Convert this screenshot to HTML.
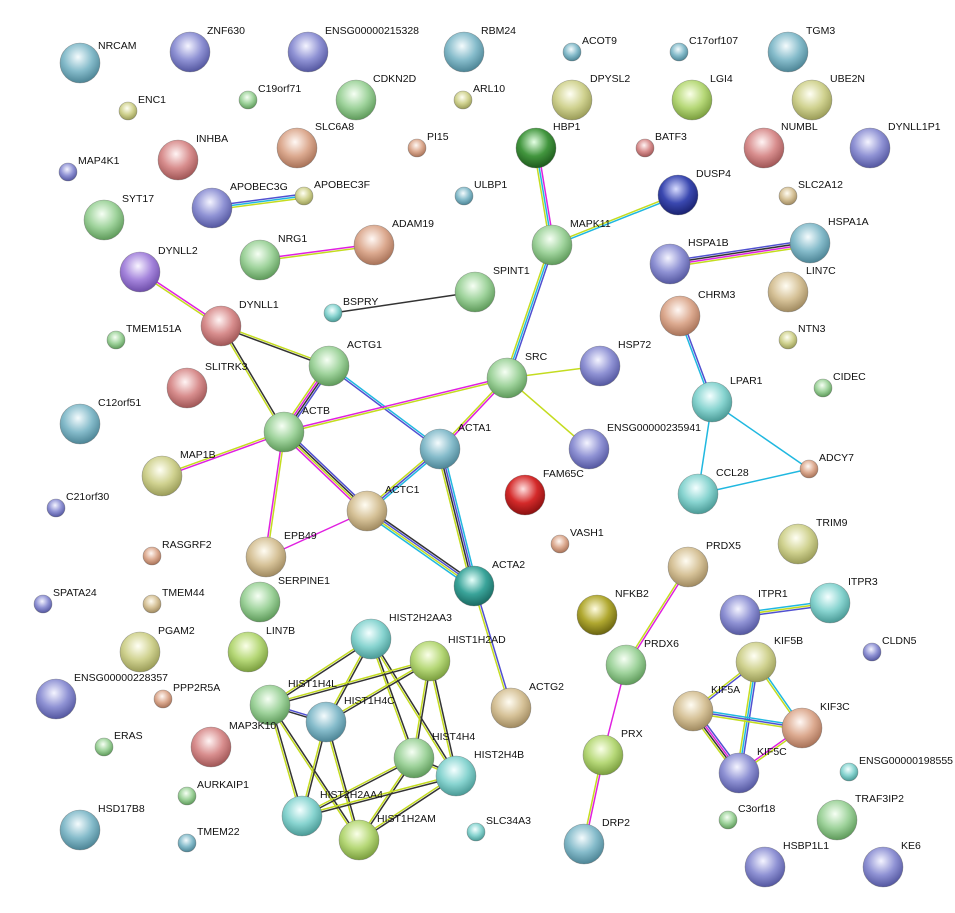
<!DOCTYPE html>
<html><head><meta charset="utf-8"><style>
body{margin:0;background:#fff;width:955px;height:913px;overflow:hidden}
svg{display:block}
text{font-family:"Liberation Sans",Arial,sans-serif;font-size:10.5px;fill:#111}
</style></head><body>
<svg id="s" width="955" height="913" viewBox="0 0 955 913">
<defs>
<radialGradient id="tb" cx="45%" cy="35%" r="65%"><stop offset="0" stop-color="#f4fbfd"/><stop offset=".55" stop-color="#86bccb"/><stop offset="1" stop-color="#4d8596"/></radialGradient>
<radialGradient id="bp" cx="45%" cy="35%" r="65%"><stop offset="0" stop-color="#f4f4ff"/><stop offset=".55" stop-color="#8f92d4"/><stop offset="1" stop-color="#5457a0"/></radialGradient>
<radialGradient id="gr" cx="45%" cy="35%" r="65%"><stop offset="0" stop-color="#f6fff4"/><stop offset=".55" stop-color="#9fd39c"/><stop offset="1" stop-color="#5e9a5a"/></radialGradient>
<radialGradient id="ol" cx="45%" cy="35%" r="65%"><stop offset="0" stop-color="#fffff4"/><stop offset=".55" stop-color="#d0d290"/><stop offset="1" stop-color="#9a9c58"/></radialGradient>
<radialGradient id="sa" cx="45%" cy="35%" r="65%"><stop offset="0" stop-color="#fff8f4"/><stop offset=".55" stop-color="#dcaa90"/><stop offset="1" stop-color="#a87258"/></radialGradient>
<radialGradient id="pk" cx="45%" cy="35%" r="65%"><stop offset="0" stop-color="#fff4f4"/><stop offset=".55" stop-color="#d88e8e"/><stop offset="1" stop-color="#a05656"/></radialGradient>
<radialGradient id="pu" cx="45%" cy="35%" r="65%"><stop offset="0" stop-color="#f8f4ff"/><stop offset=".55" stop-color="#a585dc"/><stop offset="1" stop-color="#6e4eaa"/></radialGradient>
<radialGradient id="cy" cx="45%" cy="35%" r="65%"><stop offset="0" stop-color="#f4ffff"/><stop offset=".55" stop-color="#88d4d0"/><stop offset="1" stop-color="#4a9a96"/></radialGradient>
<radialGradient id="db" cx="45%" cy="35%" r="65%"><stop offset="0" stop-color="#d8dcff"/><stop offset=".55" stop-color="#3a48b0"/><stop offset="1" stop-color="#1a2270"/></radialGradient>
<radialGradient id="dg" cx="45%" cy="35%" r="65%"><stop offset="0" stop-color="#e4ffe4"/><stop offset=".55" stop-color="#42963e"/><stop offset="1" stop-color="#1e5a1c"/></radialGradient>
<radialGradient id="rd" cx="45%" cy="35%" r="65%"><stop offset="0" stop-color="#ffe0e0"/><stop offset=".55" stop-color="#d42a2a"/><stop offset="1" stop-color="#8a1010"/></radialGradient>
<radialGradient id="yo" cx="45%" cy="35%" r="65%"><stop offset="0" stop-color="#fffce0"/><stop offset=".55" stop-color="#b0a830"/><stop offset="1" stop-color="#6a6410"/></radialGradient>
<radialGradient id="ta" cx="45%" cy="35%" r="65%"><stop offset="0" stop-color="#fffcf2"/><stop offset=".55" stop-color="#d6c298"/><stop offset="1" stop-color="#a08a60"/></radialGradient>
<radialGradient id="tl" cx="45%" cy="35%" r="65%"><stop offset="0" stop-color="#e6fffa"/><stop offset=".55" stop-color="#3aa49a"/><stop offset="1" stop-color="#1a6a62"/></radialGradient>
<radialGradient id="lg" cx="45%" cy="35%" r="65%"><stop offset="0" stop-color="#faffe8"/><stop offset=".55" stop-color="#b6d878"/><stop offset="1" stop-color="#7a9e3e"/></radialGradient>
</defs>
<g id="edges"></g>
<g stroke="#555" stroke-width=".6" stroke-opacity=".5">
<circle cx="80" cy="63" r="20" fill="url(#tb)"/><circle cx="190" cy="52" r="20" fill="url(#bp)"/><circle cx="308" cy="52" r="20" fill="url(#bp)"/><circle cx="464" cy="52" r="20" fill="url(#tb)"/><circle cx="788" cy="52" r="20" fill="url(#tb)"/>
<circle cx="356" cy="100" r="20" fill="url(#gr)"/><circle cx="572" cy="100" r="20" fill="url(#ol)"/><circle cx="692" cy="100" r="20" fill="url(#lg)"/><circle cx="812" cy="100" r="20" fill="url(#ol)"/>
<circle cx="178" cy="160" r="20" fill="url(#pk)"/><circle cx="297" cy="148" r="20" fill="url(#sa)"/><circle cx="536" cy="148" r="20" fill="url(#dg)"/><circle cx="764" cy="148" r="20" fill="url(#pk)"/><circle cx="870" cy="148" r="20" fill="url(#bp)"/>
<circle cx="678" cy="195" r="20" fill="url(#db)"/><circle cx="104" cy="220" r="20" fill="url(#gr)"/><circle cx="212" cy="208" r="20" fill="url(#bp)"/><circle cx="552" cy="245" r="20" fill="url(#gr)"/>
<circle cx="810" cy="243" r="20" fill="url(#tb)"/><circle cx="670" cy="264" r="20" fill="url(#bp)"/><circle cx="260" cy="260" r="20" fill="url(#gr)"/><circle cx="374" cy="245" r="20" fill="url(#sa)"/>
<circle cx="140" cy="272" r="20" fill="url(#pu)"/><circle cx="475" cy="292" r="20" fill="url(#gr)"/><circle cx="788" cy="292" r="20" fill="url(#ta)"/><circle cx="680" cy="316" r="20" fill="url(#sa)"/>
<circle cx="221" cy="326" r="20" fill="url(#pk)"/><circle cx="329" cy="366" r="20" fill="url(#gr)"/><circle cx="507" cy="378" r="20" fill="url(#gr)"/><circle cx="600" cy="366" r="20" fill="url(#bp)"/>
<circle cx="187" cy="388" r="20" fill="url(#pk)"/><circle cx="712" cy="402" r="20" fill="url(#cy)"/><circle cx="80" cy="424" r="20" fill="url(#tb)"/><circle cx="284" cy="432" r="20" fill="url(#gr)"/>
<circle cx="440" cy="449" r="20" fill="url(#tb)"/><circle cx="589" cy="449" r="20" fill="url(#bp)"/><circle cx="162" cy="476" r="20" fill="url(#ol)"/><circle cx="525" cy="495" r="20" fill="url(#rd)"/>
<circle cx="698" cy="494" r="20" fill="url(#cy)"/><circle cx="367" cy="511" r="20" fill="url(#ta)"/><circle cx="798" cy="544" r="20" fill="url(#ol)"/><circle cx="266" cy="557" r="20" fill="url(#ta)"/>
<circle cx="688" cy="567" r="20" fill="url(#ta)"/><circle cx="474" cy="586" r="20" fill="url(#tl)"/><circle cx="260" cy="602" r="20" fill="url(#gr)"/><circle cx="740" cy="615" r="20" fill="url(#bp)"/>
<circle cx="830" cy="603" r="20" fill="url(#cy)"/><circle cx="597" cy="615" r="20" fill="url(#yo)"/><circle cx="371" cy="639" r="20" fill="url(#cy)"/><circle cx="430" cy="661" r="20" fill="url(#lg)"/>
<circle cx="140" cy="652" r="20" fill="url(#ol)"/><circle cx="248" cy="652" r="20" fill="url(#lg)"/><circle cx="626" cy="665" r="20" fill="url(#gr)"/><circle cx="756" cy="662" r="20" fill="url(#ol)"/>
<circle cx="56" cy="699" r="20" fill="url(#bp)"/><circle cx="270" cy="705" r="20" fill="url(#gr)"/><circle cx="326" cy="722" r="20" fill="url(#tb)"/><circle cx="511" cy="708" r="20" fill="url(#ta)"/>
<circle cx="693" cy="711" r="20" fill="url(#ta)"/><circle cx="802" cy="728" r="20" fill="url(#sa)"/><circle cx="211" cy="747" r="20" fill="url(#pk)"/><circle cx="414" cy="758" r="20" fill="url(#gr)"/>
<circle cx="603" cy="755" r="20" fill="url(#lg)"/><circle cx="456" cy="776" r="20" fill="url(#cy)"/><circle cx="739" cy="773" r="20" fill="url(#bp)"/><circle cx="80" cy="830" r="20" fill="url(#tb)"/>
<circle cx="302" cy="816" r="20" fill="url(#cy)"/><circle cx="359" cy="840" r="20" fill="url(#lg)"/><circle cx="837" cy="820" r="20" fill="url(#gr)"/><circle cx="584" cy="844" r="20" fill="url(#tb)"/>
<circle cx="765" cy="867" r="20" fill="url(#bp)"/><circle cx="883" cy="867" r="20" fill="url(#bp)"/>
<circle cx="128" cy="111" r="9" fill="url(#ol)"/><circle cx="248" cy="100" r="9" fill="url(#gr)"/><circle cx="463" cy="100" r="9" fill="url(#ol)"/><circle cx="572" cy="52" r="9" fill="url(#tb)"/>
<circle cx="679" cy="52" r="9" fill="url(#tb)"/><circle cx="68" cy="172" r="9" fill="url(#bp)"/><circle cx="417" cy="148" r="9" fill="url(#sa)"/><circle cx="645" cy="148" r="9" fill="url(#pk)"/>
<circle cx="304" cy="196" r="9" fill="url(#ol)"/><circle cx="464" cy="196" r="9" fill="url(#tb)"/><circle cx="788" cy="196" r="9" fill="url(#ta)"/><circle cx="333" cy="313" r="9" fill="url(#cy)"/>
<circle cx="116" cy="340" r="9" fill="url(#gr)"/><circle cx="788" cy="340" r="9" fill="url(#ol)"/><circle cx="823" cy="388" r="9" fill="url(#gr)"/><circle cx="809" cy="469" r="9" fill="url(#sa)"/>
<circle cx="56" cy="508" r="9" fill="url(#bp)"/><circle cx="560" cy="544" r="9" fill="url(#sa)"/><circle cx="152" cy="556" r="9" fill="url(#sa)"/><circle cx="43" cy="604" r="9" fill="url(#bp)"/>
<circle cx="152" cy="604" r="9" fill="url(#ta)"/><circle cx="872" cy="652" r="9" fill="url(#bp)"/><circle cx="163" cy="699" r="9" fill="url(#sa)"/><circle cx="104" cy="747" r="9" fill="url(#gr)"/>
<circle cx="187" cy="796" r="9" fill="url(#gr)"/><circle cx="849" cy="772" r="9" fill="url(#cy)"/><circle cx="476" cy="832" r="9" fill="url(#cy)"/><circle cx="728" cy="820" r="9" fill="url(#gr)"/><circle cx="187" cy="843" r="9" fill="url(#tb)"/>
</g>
<g>
<text x="98" y="49">NRCAM</text><text x="207" y="34">ZNF630</text><text x="325" y="34">ENSG00000215328</text><text x="481" y="34">RBM24</text><text x="806" y="34">TGM3</text>
<text x="373" y="82">CDKN2D</text><text x="590" y="82">DPYSL2</text><text x="710" y="82">LGI4</text><text x="830" y="82">UBE2N</text>
<text x="196" y="142">INHBA</text><text x="315" y="130">SLC6A8</text><text x="553" y="130">HBP1</text><text x="781" y="130">NUMBL</text><text x="888" y="130">DYNLL1P1</text>
<text x="696" y="177">DUSP4</text><text x="122" y="202">SYT17</text><text x="230" y="190">APOBEC3G</text><text x="570" y="227">MAPK11</text>
<text x="828" y="225">HSPA1A</text><text x="688" y="246">HSPA1B</text><text x="278" y="242">NRG1</text><text x="392" y="227">ADAM19</text>
<text x="158" y="254">DYNLL2</text><text x="493" y="274">SPINT1</text><text x="806" y="274">LIN7C</text><text x="698" y="298">CHRM3</text>
<text x="239" y="308">DYNLL1</text><text x="347" y="348">ACTG1</text><text x="525" y="360">SRC</text><text x="618" y="348">HSP72</text>
<text x="205" y="370">SLITRK3</text><text x="730" y="384">LPAR1</text><text x="98" y="406">C12orf51</text><text x="302" y="414">ACTB</text>
<text x="458" y="431">ACTA1</text><text x="607" y="431">ENSG00000235941</text><text x="180" y="458">MAP1B</text><text x="543" y="477">FAM65C</text>
<text x="716" y="476">CCL28</text><text x="385" y="493">ACTC1</text><text x="816" y="526">TRIM9</text><text x="284" y="539">EPB49</text>
<text x="706" y="549">PRDX5</text><text x="492" y="568">ACTA2</text><text x="278" y="584">SERPINE1</text><text x="758" y="597">ITPR1</text>
<text x="848" y="585">ITPR3</text><text x="615" y="597">NFKB2</text><text x="389" y="621">HIST2H2AA3</text><text x="448" y="643">HIST1H2AD</text>
<text x="158" y="634">PGAM2</text><text x="266" y="634">LIN7B</text><text x="644" y="647">PRDX6</text><text x="774" y="644">KIF5B</text>
<text x="74" y="681">ENSG00000228357</text><text x="288" y="687">HIST1H4L</text><text x="344" y="704">HIST1H4C</text><text x="529" y="690">ACTG2</text>
<text x="711" y="693">KIF5A</text><text x="820" y="710">KIF3C</text><text x="229" y="729">MAP3K10</text><text x="432" y="740">HIST4H4</text>
<text x="621" y="737">PRX</text><text x="474" y="758">HIST2H4B</text><text x="757" y="755">KIF5C</text><text x="98" y="812">HSD17B8</text>
<text x="320" y="798">HIST2H2AA4</text><text x="377" y="822">HIST1H2AM</text><text x="855" y="802">TRAF3IP2</text><text x="602" y="826">DRP2</text>
<text x="783" y="849">HSBP1L1</text><text x="901" y="849">KE6</text>
<text x="138" y="103">ENC1</text><text x="258" y="92">C19orf71</text><text x="473" y="92">ARL10</text><text x="582" y="44">ACOT9</text>
<text x="689" y="44">C17orf107</text><text x="78" y="164">MAP4K1</text><text x="427" y="140">PI15</text><text x="655" y="140">BATF3</text>
<text x="314" y="188">APOBEC3F</text><text x="474" y="188">ULBP1</text><text x="798" y="188">SLC2A12</text><text x="343" y="305">BSPRY</text>
<text x="126" y="332">TMEM151A</text><text x="798" y="332">NTN3</text><text x="833" y="380">CIDEC</text><text x="819" y="461">ADCY7</text>
<text x="66" y="500">C21orf30</text><text x="570" y="536">VASH1</text><text x="162" y="548">RASGRF2</text><text x="53" y="596">SPATA24</text>
<text x="162" y="596">TMEM44</text><text x="882" y="644">CLDN5</text><text x="173" y="691">PPP2R5A</text><text x="114" y="739">ERAS</text>
<text x="197" y="788">AURKAIP1</text><text x="859" y="764">ENSG00000198555</text><text x="486" y="824">SLC34A3</text><text x="738" y="812">C3orf18</text><text x="197" y="835">TMEM22</text>
</g>
</svg>
<script>
var P={APOBEC3G:[212,208],APOBEC3F:[304,196],NRG1:[260,260],ADAM19:[374,245],HBP1:[536,148],MAPK11:[552,245],DUSP4:[678,195],SRC:[507,378],HSPA1B:[670,264],HSPA1A:[810,243],BSPRY:[333,313],SPINT1:[475,292],DYNLL2:[140,272],DYNLL1:[221,326],ACTG1:[329,366],ACTB:[284,432],ACTA1:[440,449],ACTC1:[367,511],EPB49:[266,557],MAP1B:[162,476],HSP72:[600,366],E41:[589,449],ACTA2:[474,586],ACTG2:[511,708],CHRM3:[680,316],LPAR1:[712,402],CCL28:[698,494],ADCY7:[809,469],PRDX5:[688,567],PRDX6:[626,665],PRX:[603,755],DRP2:[584,844],ITPR1:[740,615],ITPR3:[830,603],KIF5B:[756,662],KIF5A:[693,711],KIF3C:[802,728],KIF5C:[739,773],H3:[371,639],HD:[430,661],H4L:[270,705],H4C:[326,722],H44:[414,758],H4B:[456,776],HA4:[302,816],HAM:[359,840]};
var C={m:"#e020e0",c:"#20b8e0",y:"#c4dc20",k:"#333",b:"#5050d0"};
var E=[["APOBEC3G","APOBEC3F","bcy"],["NRG1","ADAM19","my"],["HBP1","MAPK11","mcy"],["DUSP4","MAPK11","cy"],["MAPK11","SRC","bcy"],["HSPA1B","HSPA1A","bkmy"],["BSPRY","SPINT1","k"],["DYNLL2","DYNLL1","my"],["DYNLL1","ACTG1","yk"],["DYNLL1","ACTB","ky"],["ACTG1","ACTB","bkmy"],["ACTG1","ACTA1","cb"],["ACTB","SRC","my"],["ACTB","ACTC1","bkym"],["ACTB","EPB49","ym"],["ACTB","MAP1B","my"],["SRC","ACTA1","my"],["SRC","HSP72","y"],["SRC","E41","y"],["ACTA1","ACTC1","cby"],["ACTA1","ACTA2","cbky"],["ACTC1","ACTA2","kbyc"],["ACTC1","EPB49","m"],["ACTA2","ACTG2","by"],["CHRM3","LPAR1","bc"],["LPAR1","CCL28","c"],["LPAR1","ADCY7","c"],["CCL28","ADCY7","c"],["PRDX5","PRDX6","my"],["PRDX6","PRX","m"],["PRX","DRP2","my"],["ITPR1","ITPR3","cyb"],["KIF5B","KIF5A","by"],["KIF5B","KIF3C","cy"],["KIF5B","KIF5C","bcy"],["KIF5A","KIF3C","cby"],["KIF5A","KIF5C","bmky"],["KIF3C","KIF5C","ym"],["H3","H4L","ky"],["H3","H4C","ky"],["H3","H44","ky"],["H3","H4B","ky"],["HD","H4L","ky"],["HD","H4C","ky"],["HD","H44","ky"],["HD","H4B","ky"],["H4L","HA4","ky"],["H4L","HAM","ky"],["H4C","HA4","ky"],["H4C","HAM","ky"],["H44","HA4","ky"],["H44","HAM","ky"],["H4B","HA4","ky"],["H4B","HAM","ky"],["H4L","H4C","bk"],["H44","H4B","ky"]];
var g=document.getElementById("edges"),s="";
E.forEach(function(e){var a=P[e[0]],b=P[e[1]],dx=b[0]-a[0],dy=b[1]-a[1],L=Math.hypot(dx,dy),nx=-dy/L,ny=dx/L,n=e[2].length;
for(var i=0;i<n;i++){var o=(i-(n-1)/2)*2;s+='<line x1="'+(a[0]+nx*o)+'" y1="'+(a[1]+ny*o)+'" x2="'+(b[0]+nx*o)+'" y2="'+(b[1]+ny*o)+'" stroke="'+C[e[2][i]]+'" stroke-width="1.5"/>';}});
g.innerHTML=s;
</script>
</body></html>
